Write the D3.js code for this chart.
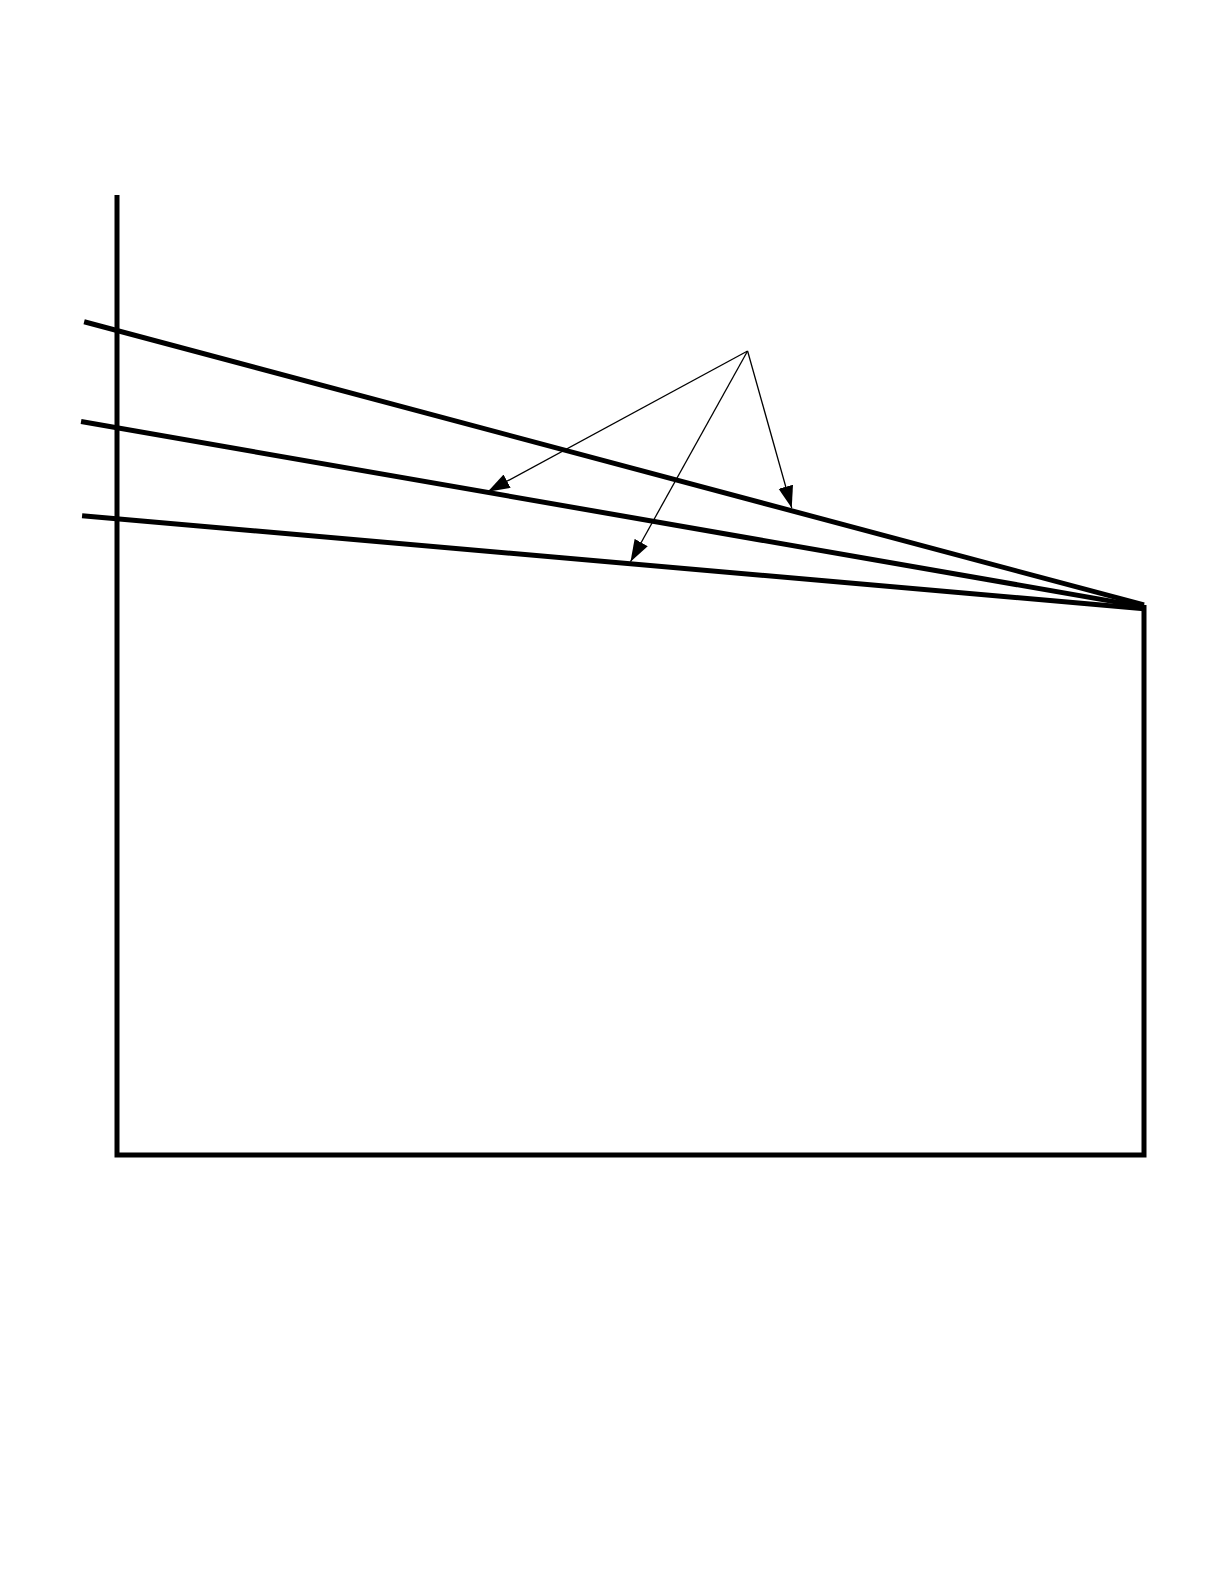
<!DOCTYPE html>
<html>
<head>
<meta charset="utf-8">
<script src="https://cdn.jsdelivr.net/npm/d3@7"></script>
<style>
  html, body { margin: 0; padding: 0; background: #fff; }
</style>
</head>
<body>
<div id="chart"></div>
<script>
// frame outline: left axis, bottom, right side (units 0..100)
var frame = [[0, 100], [0, 0], [100, 0], [100, 57.3]];

// the three converging lines
var lineStarts = [[-3.2, 86.8], [-3.5, 76.4], [-3.4, 66.6]];
var lineEnds = [[100, 57.3], [100, 57.1], [100, 56.9]];

// leader arrows from one point out to the lines
var arrowOrigin = [61.4, 83.75];
var arrowTips = [[36.1, 69.1], [50.0, 61.8], [65.7, 67.4]];

var width = 1224, height = 1584;

var svg = d3.select("#chart").append("svg")
    .attr("width", width)
    .attr("height", height);

var x = d3.scaleLinear().domain([0, 100]).range([117, 1144]);
var y = d3.scaleLinear().domain([0, 100]).range([1155, 195]);

var line = d3.line()
    .x(function(d){ return x(d[0]); })
    .y(function(d){ return y(d[1]); });

svg.append("defs").append("marker")
    .attr("id", "arrow")
    .attr("markerUnits", "userSpaceOnUse")
    .attr("viewBox", "0 -8 22 16")
    .attr("refX", 22)
    .attr("refY", 0)
    .attr("markerWidth", 22)
    .attr("markerHeight", 16)
    .attr("orient", "auto")
  .append("path")
    .attr("d", "M0,-7.5L22,0L0,7.5Z")
    .style("fill", "#000");

svg.append("path")
    .attr("d", line(frame))
    .style("fill", "none")
    .style("stroke", "#000")
    .style("stroke-width", "5px")
    .style("stroke-linejoin", "miter");

lineStarts.forEach(function(s, i){
    svg.append("path")
        .attr("d", line([s, lineEnds[i]]))
        .style("fill", "none")
        .style("stroke", "#000")
        .style("stroke-width", "5px");
});

arrowTips.forEach(function(t){
    svg.append("line")
        .attr("x1", x(arrowOrigin[0]))
        .attr("y1", y(arrowOrigin[1]))
        .attr("x2", x(t[0]))
        .attr("y2", y(t[1]))
        .attr("marker-end", "url(#arrow)")
        .style("stroke", "#000")
        .style("stroke-width", "1.3px");
});
</script>
</body>
</html>
